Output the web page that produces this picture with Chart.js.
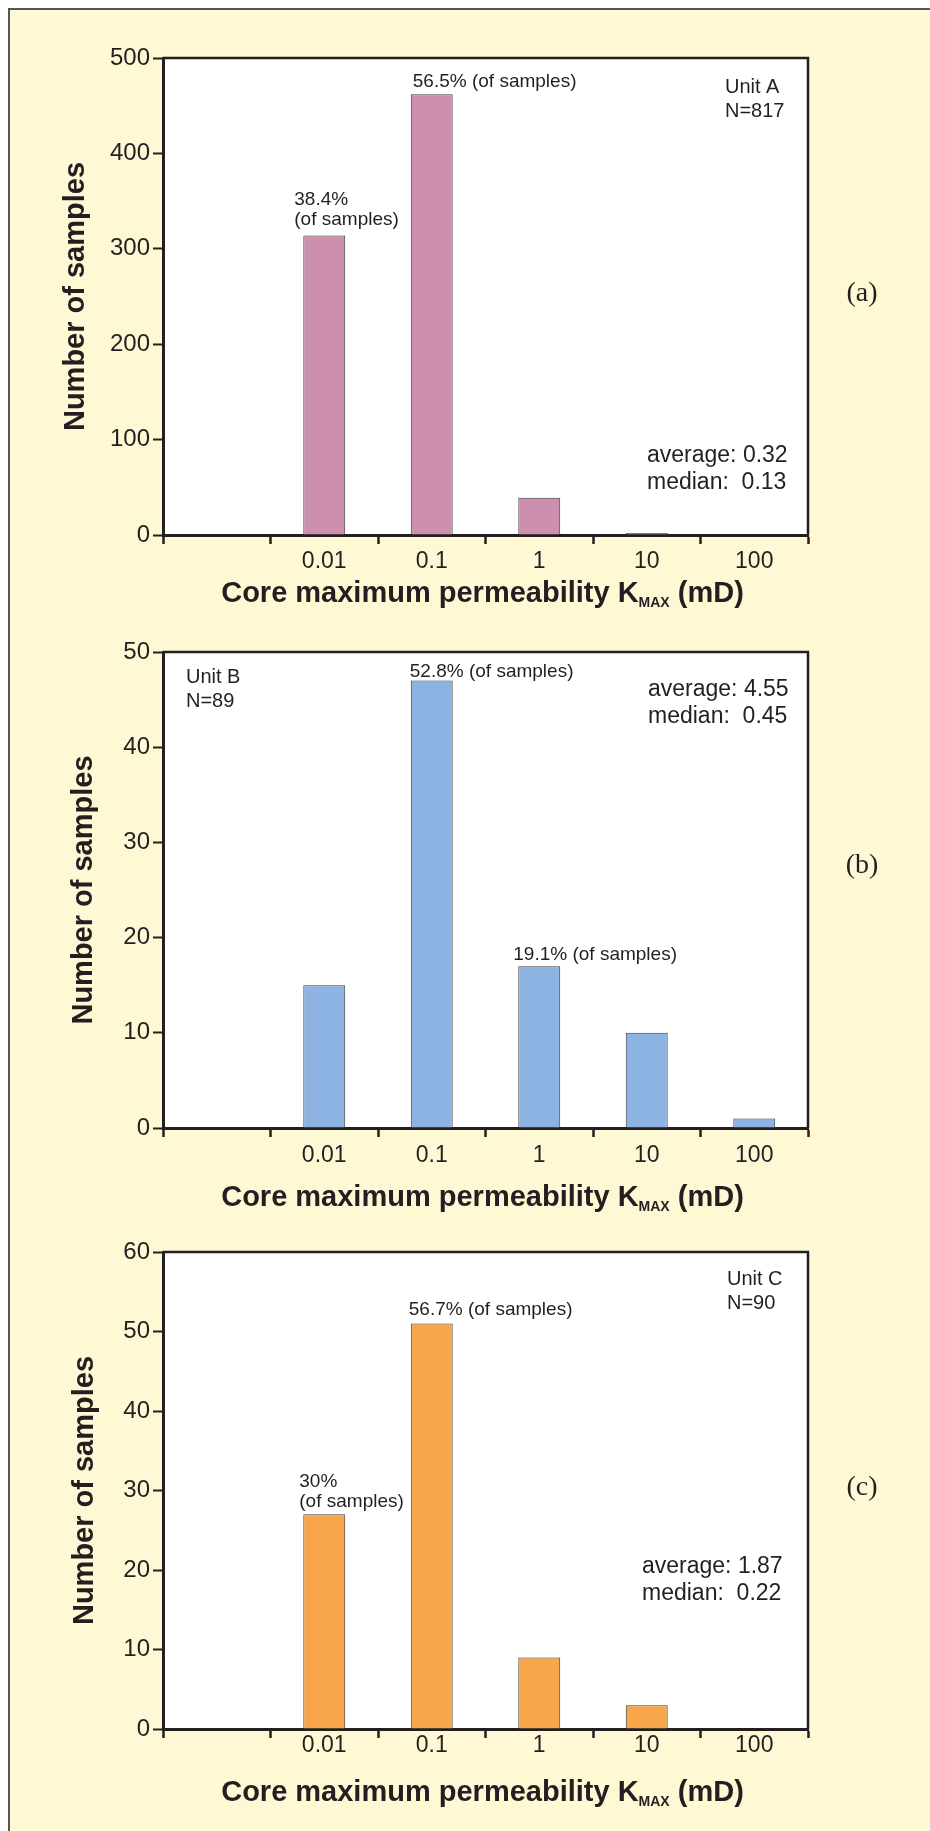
<!DOCTYPE html>
<html>
<head>
<meta charset="utf-8">
<script src="https://cdn.jsdelivr.net/npm/chart.js@4.4.0/dist/chart.umd.min.js"></script>
<style>
  html, body { margin: 0; padding: 0; background: #ffffff; }
  body { width: 930px; height: 1831px; position: relative; overflow: hidden; }
  #frame {
    position: absolute; left: 8px; top: 8px; width: 940px; height: 1840px;
    background: #fef8d5; border-left: 2px solid #555555; border-top: 2px solid #555555;
  }
  .panel { position: absolute; left: 0; width: 930px; }
  canvas { display: block; }
</style>
</head>
<body>
<div id="frame"></div>
<div class="panel" style="top:0px;height:620px"><canvas id="chartA" width="930" height="620"></canvas></div>
<div class="panel" style="top:620px;height:600px"><canvas id="chartB" width="930" height="600"></canvas></div>
<div class="panel" style="top:1220px;height:611px"><canvas id="chartC" width="930" height="611"></canvas></div>

<script>
// Permeability classes (mD) - first slot is the empty class left of 0.01
const categories = ['', '0.01', '0.1', '1', '10', '100'];

// Sample counts per class
const unitACounts = [null, 314, 462, 39, 2, 0];
const unitBCounts = [null, 15, 47, 17, 10, 1];
const unitCCounts = [null, 27, 51, 9, 3, 0];

// Y axis tick values
const yTicksA = [0, 100, 200, 300, 400, 500];
const yTicksB = [0, 10, 20, 30, 40, 50];
const yTicksC = [0, 10, 20, 30, 40, 50, 60];

// Percent labels above bars (same order as categories)
const pctLabelsA = ['', '38.4%\n(of samples)', '56.5% (of samples)', '', '', ''];
const pctLabelsB = ['', '', '52.8% (of samples)', '19.1% (of samples)', '', ''];
const pctLabelsC = ['', '30%\n(of samples)', '56.7% (of samples)', '', '', ''];

// Unit info and statistics
const unitA = ['Unit A', 'N=817'];
const unitB = ['Unit B', 'N=89'];
const unitC = ['Unit C', 'N=90'];
const statsA = ['average: 0.32', 'median:  0.13'];
const statsB = ['average: 4.55', 'median:  0.45'];
const statsC = ['average: 1.87', 'median:  0.22'];

const INK = '#231f20';
const SANS = '"Liberation Sans", Arial, Helvetica, sans-serif';
const SERIF = '"Liberation Serif", "Times New Roman", serif';

// Layout for each panel (canvas coordinates)
const panels = [
  {
    id: 'chartA', counts: unitACounts, ticks: yTicksA, notes: pctLabelsA, unit: unitA, stats: statsA, tag: '(a)',
    color: '#cc8fad', top: 58, bottom: 535, titleX: 76, tickPad: 4, xTitleY: 602,
    noteDx: [0, -9, 2, 0, 0, 0], noteDy: [0, -10, -7, 0, 0, 0],
    unitPos: [725, 93], statsPos: [647, 462], tagY: 294,
  },
  {
    id: 'chartB', counts: unitBCounts, ticks: yTicksB, notes: pctLabelsB, unit: unitB, stats: statsB, tag: '(b)',
    color: '#8db3e2', top: 32, bottom: 508, titleX: 84, tickPad: 5, xTitleY: 586,
    noteDx: [0, 0, -1, -5, 0, 0], noteDy: [0, 0, -4, -6, 0, 0],
    unitPos: [186, 63], statsPos: [648, 76], tagY: 246,
  },
  {
    id: 'chartC', counts: unitCCounts, ticks: yTicksC, notes: pctLabelsC, unit: unitC, stats: statsC, tag: '(c)',
    color: '#f8a64a', top: 32, bottom: 509, titleX: 85, tickPad: -6, xTitleY: 581,
    noteDx: [0, -4, -2, 0, 0, 0], noteDy: [0, -7, -9, 0, 0, 0],
    unitPos: [727, 65], statsPos: [642, 353], tagY: 268,
  },
];

function drawXTitle(ctx, cx, baseline) {
  const main = 'Core maximum permeability K';
  const sub = 'MAX';
  const tail = ' (mD)';
  ctx.font = `bold 29px ${SANS}`;
  const w1 = ctx.measureText(main).width;
  const w3 = ctx.measureText(tail).width;
  ctx.font = `bold 14px ${SANS}`;
  const w2 = ctx.measureText(sub).width;
  let x = cx - (w1 + w2 + w3) / 2;
  ctx.textAlign = 'left';
  ctx.textBaseline = 'alphabetic';
  ctx.font = `bold 29px ${SANS}`;
  ctx.fillText(main, x, baseline);
  x += w1;
  ctx.font = `bold 14px ${SANS}`;
  ctx.fillText(sub, x, baseline + 5);
  x += w2;
  ctx.font = `bold 29px ${SANS}`;
  ctx.fillText(tail, x, baseline);
}

const decorPlugin = {
  id: 'decor',
  beforeDraw(chart) {
    const { ctx, chartArea: a } = chart;
    ctx.save();
    ctx.fillStyle = '#ffffff';
    ctx.fillRect(a.left, a.top, a.right - a.left, a.bottom - a.top);
    ctx.restore();
  },
  afterDraw(chart) {
    const p = chart.options.plugins.decor;
    const { ctx, chartArea: a } = chart;
    const xs = chart.scales.x;
    const ys = chart.scales.y;
    const meta = chart.getDatasetMeta(0);
    ctx.save();

    // top and right frame of the plot
    ctx.strokeStyle = INK;
    ctx.lineWidth = 2.5;
    ctx.beginPath();
    ctx.moveTo(a.left, a.top);
    ctx.lineTo(a.right, a.top);
    ctx.lineTo(a.right, a.bottom);
    ctx.stroke();

    ctx.fillStyle = INK;

    // percentage notes above bars
    ctx.font = `19px ${SANS}`;
    ctx.textAlign = 'left';
    ctx.textBaseline = 'alphabetic';
    p.notes.forEach((txt, i) => {
      if (!txt) return;
      const bar = meta.data[i];
      const lines = txt.split('\n');
      const left = bar.x - bar.width / 2 + p.noteDx[i];
      const base = ys.getPixelForValue(p.counts[i]) + p.noteDy[i];
      lines.forEach((ln, k) => {
        ctx.fillText(ln, left, base - (lines.length - 1 - k) * 20);
      });
    });

    // unit name and N
    ctx.font = `20px ${SANS}`;
    p.unit.forEach((ln, k) => ctx.fillText(ln, p.unitPos[0], p.unitPos[1] + k * 24));

    // average / median
    ctx.font = `23px ${SANS}`;
    p.stats.forEach((ln, k) => ctx.fillText(ln, p.statsPos[0], p.statsPos[1] + k * 27));

    // x axis title with subscript
    drawXTitle(ctx, (xs.left + xs.right) / 2 - 3, p.xTitleY);

    // panel tag
    ctx.font = `28px ${SERIF}`;
    ctx.textAlign = 'center';
    ctx.textBaseline = 'middle';
    ctx.fillText(p.tag, 862, p.tagY);

    ctx.restore();
  },
};

panels.forEach(p => {
  const canvas = document.getElementById(p.id);
  const H = canvas.height;
  const step = p.ticks[1] - p.ticks[0];
  new Chart(canvas, {
    type: 'bar',
    data: {
      labels: categories,
      datasets: [{
        data: p.counts,
        backgroundColor: p.color,
        borderColor: '#3f3f3f',
        borderWidth: 1,
        barPercentage: 0.39,
        categoryPercentage: 1,
      }],
    },
    options: {
      responsive: false,
      animation: false,
      layout: { padding: { top: p.top, right: 122, bottom: 0, left: 0 } },
      plugins: {
        legend: { display: false },
        tooltip: { enabled: false },
        decor: p,
      },
      scales: {
        x: {
          grid: {
            offset: true,
            drawOnChartArea: false,
            drawTicks: true,
            tickLength: 9,
            tickWidth: 2.5,
            tickColor: INK,
          },
          border: { display: true, color: INK, width: 3 },
          ticks: {
            color: INK,
            padding: p.tickPad,
            font: { family: SANS, size: 23 },
            maxRotation: 0,
            autoSkip: false,
          },
          afterFit: scale => { scale.height = H - p.bottom; },
        },
        y: {
          min: p.ticks[0],
          max: p.ticks[p.ticks.length - 1],
          grid: {
            drawOnChartArea: false,
            drawTicks: true,
            tickLength: 10,
            tickWidth: 2,
            tickColor: INK,
          },
          border: { display: true, color: INK, width: 3 },
          ticks: {
            stepSize: step,
            color: INK,
            padding: 3,
            font: { family: SANS, size: 24 },
          },
          title: {
            display: true,
            text: 'Number of samples',
            color: INK,
            font: { family: SANS, size: 29, weight: 'bold' },
            padding: { top: p.titleX - 17.4, bottom: 0 },
          },
          afterFit: scale => { scale.width = 163; },
        },
      },
    },
    plugins: [decorPlugin],
  });
});
</script>
</body>
</html>
